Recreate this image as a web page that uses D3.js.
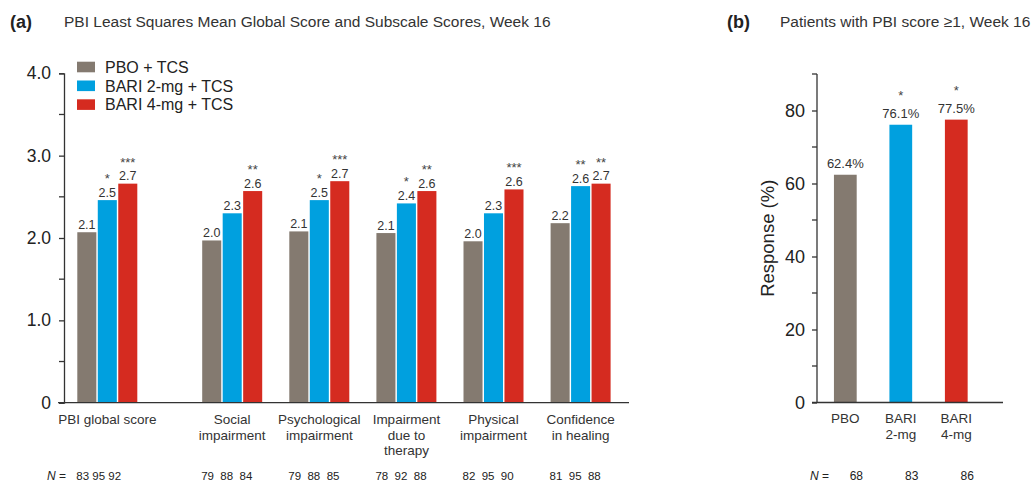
<!DOCTYPE html>
<html>
<head>
<meta charset="utf-8">
<script src="https://cdn.jsdelivr.net/npm/d3@7"></script>
<style>
  html, body { margin: 0; padding: 0; background: #fff; }
  svg { display: block; font-family: "Liberation Sans", Arial, Helvetica, sans-serif; }
  text { white-space: pre; }
</style>
</head>
<body>
<svg id="chart" width="1035" height="484"></svg>
<script>
// ---- Panel (a): PBI least squares mean scores ----
const categories = [
  ["PBI global score"],
  ["Social", "impairment"],
  ["Psychological", "impairment"],
  ["Impairment", "due to", "therapy"],
  ["Physical", "impairment"],
  ["Confidence", "in healing"]
];
const seriesNames = ["PBO + TCS", "BARI 2-mg + TCS", "BARI 4-mg + TCS"];
const pboScores   = [2.07, 1.97, 2.08, 2.06, 1.96, 2.18];
const bari2Scores = [2.46, 2.30, 2.46, 2.42, 2.30, 2.63];
const bari4Scores = [2.66, 2.57, 2.69, 2.57, 2.59, 2.66];
const pboStars    = ["", "", "", "", "", ""];
const bari2Stars  = ["*", "", "*", "*", "", "**"];
const bari4Stars  = ["***", "**", "***", "**", "***", "**"];
const pboN   = [83, 79, 79, 78, 82, 81];
const bari2N = [95, 88, 88, 92, 95, 95];
const bari4N = [92, 84, 85, 88, 90, 88];
const scoreTicks = [0, 1, 2, 3, 4];
const scoreMinorTicks = [0.5, 1.5, 2.5, 3.5];

// ---- Panel (b): patients with PBI score >= 1 ----
const respGroups = [["PBO"], ["BARI", "2-mg"], ["BARI", "4-mg"]];
const respValues = [62.4, 76.1, 77.5];
const respStars  = ["", "*", "*"];
const respN      = [68, 83, 86];
const respTicks  = [0, 20, 40, 60, 80];
const respMinorTicks = [10, 30, 50, 70, 90];

const colors = ["#847a70", "#00a0df", "#d52b20"];
const ink = "#222";
const axisInk = "#333";

const svg = d3.select("#chart");

// ================= Panel (a) =================
const a = svg.append("g");

const yA = d3.scaleLinear().domain([0, 4]).range([402.7, 73.3]);
// group slots: the global score sits apart from the five subscales
const slotOf = i => (i === 0 ? 0 : i + 0.434);
const xSlot = d3.scaleLinear().domain([0, 5.434]).range([107.3, 580.6]);
const xInner = d3.scaleBand().domain([0, 1, 2]).range([-30, 30]).paddingInner(0.07);

const seriesData = [
  { vals: pboScores, stars: pboStars },
  { vals: bari2Scores, stars: bari2Stars },
  { vals: bari4Scores, stars: bari4Stars }
];

// titles
a.append("text").attr("x", 10).attr("y", 27.5)
  .attr("font-size", 18).attr("font-weight", "bold").attr("fill", ink).text("(a)");
a.append("text").attr("x", 64).attr("y", 26.5)
  .attr("font-size", 15.5).attr("fill", "#333")
  .text("PBI Least Squares Mean Global Score and Subscale Scores, Week 16");

// y axis
const axisA = a.append("g").attr("transform", "translate(64,0)")
  .call(d3.axisLeft(yA).tickValues(scoreTicks).tickSize(5).tickPadding(8)
    .tickFormat(d => d === 0 ? "0" : d3.format(".1f")(d)));
axisA.select(".domain").attr("stroke", axisInk).attr("stroke-width", 1.3);
axisA.selectAll(".tick line").attr("stroke", axisInk).attr("stroke-width", 1.3);
axisA.selectAll(".tick text").attr("font-size", 17.5).attr("fill", ink)
  .attr("font-family", "Liberation Sans, Arial, sans-serif");
a.append("g").attr("transform", "translate(64,0)")
  .selectAll("line").data(scoreMinorTicks).join("line")
  .attr("x1", -5).attr("x2", 0).attr("y1", d => yA(d)).attr("y2", d => yA(d))
  .attr("stroke", axisInk).attr("stroke-width", 1.3);

// bars
seriesData.forEach((s, si) => {
  const g = a.append("g");
  s.vals.forEach((v, i) => {
    const cx = xSlot(slotOf(i)) + xInner(si);
    const top = yA(v);
    g.append("rect").attr("x", cx).attr("y", top)
      .attr("width", xInner.bandwidth()).attr("height", yA(0) - top)
      .attr("fill", colors[si]);
    g.append("text").attr("x", cx + xInner.bandwidth() / 2).attr("y", top - 3.5)
      .attr("text-anchor", "middle").attr("font-size", 12.5).attr("fill", "#333")
      .text(d3.format(".1f")(v));
    if (s.stars[i]) {
      g.append("text").attr("x", cx + xInner.bandwidth() / 2).attr("y", top - 17)
        .attr("text-anchor", "middle").attr("font-size", 13).attr("fill", "#444")
        .text(s.stars[i]);
    }
  });
});

// baseline
a.append("line").attr("x1", 58).attr("x2", 629)
  .attr("y1", yA(0)).attr("y2", yA(0))
  .attr("stroke", axisInk).attr("stroke-width", 1.3);

// category labels
categories.forEach((lines, i) => {
  const t = a.append("text").attr("text-anchor", "middle")
    .attr("font-size", 13.5).attr("fill", "#333");
  lines.forEach((ln, li) => {
    t.append("tspan").attr("x", xSlot(slotOf(i))).attr("y", 424 + li * 15.7).text(ln);
  });
});

// legend
const legend = a.append("g");
seriesNames.forEach((name, si) => {
  const cy = 67 + si * 18.8;
  legend.append("rect").attr("x", 77).attr("y", cy - 5.3)
    .attr("width", 18).attr("height", 10.6).attr("fill", colors[si]);
  legend.append("text").attr("x", 105).attr("y", cy + 5.7)
    .attr("font-size", 16).attr("fill", ink).text(name);
});

// N row
const nA = a.append("text").attr("x", 47).attr("y", 480)
  .attr("font-size", 12).attr("fill", ink);
nA.append("tspan").attr("font-style", "italic").text("N");
nA.append("tspan").text(" =");
categories.forEach((_, i) => {
  const sep = i === 0 ? " " : "  ";
  a.append("text").attr("x", xSlot(slotOf(i)) - 31).attr("y", 480)
    .attr("font-size", 11.5).attr("fill", ink)
    .text([pboN[i], bari2N[i], bari4N[i]].join(sep));
});

// ================= Panel (b) =================
const b = svg.append("g");
const yB = d3.scaleLinear().domain([0, 90]).range([402.5, 74]);
const xB = d3.scaleBand().domain(d3.range(respValues.length))
  .range([817.3, 984.3]).paddingInner(0.59).paddingOuter(0.3);

b.append("text").attr("x", 727).attr("y", 27.5)
  .attr("font-size", 18).attr("font-weight", "bold").attr("fill", ink).text("(b)");
b.append("text").attr("x", 780).attr("y", 26.5)
  .attr("font-size", 15.5).attr("fill", "#333")
  .text("Patients with PBI score \u22651, Week 16");

const axisB = b.append("g").attr("transform", "translate(817,0)")
  .call(d3.axisLeft(yB).tickValues(respTicks).tickSize(5).tickPadding(7)
    .tickFormat(d3.format("d")));
axisB.select(".domain").attr("stroke", axisInk).attr("stroke-width", 1.3)
  .attr("d", `M0,${yB(90)}V${yB(0)}`);
axisB.selectAll(".tick line").attr("stroke", axisInk).attr("stroke-width", 1.3);
axisB.selectAll(".tick text").attr("font-size", 18).attr("fill", ink)
  .attr("font-family", "Liberation Sans, Arial, sans-serif");
b.append("g").attr("transform", "translate(817,0)")
  .selectAll("line").data(respMinorTicks).join("line")
  .attr("x1", -5).attr("x2", 0).attr("y1", d => yB(d)).attr("y2", d => yB(d))
  .attr("stroke", axisInk).attr("stroke-width", 1.3);

b.append("text")
  .attr("transform", `translate(773.5,${(yB(0) + yB(90)) / 2}) rotate(-90)`)
  .attr("text-anchor", "middle").attr("font-size", 18.5).attr("fill", ink)
  .text("Response (%)");

respValues.forEach((v, i) => {
  const x = xB(i), top = yB(v), cx = x + xB.bandwidth() / 2;
  b.append("rect").attr("x", x).attr("y", top)
    .attr("width", xB.bandwidth()).attr("height", yB(0) - top)
    .attr("fill", colors[i]);
  b.append("text").attr("x", cx).attr("y", top - 6.3)
    .attr("text-anchor", "middle").attr("font-size", 13).attr("fill", "#333")
    .text(d3.format(".1f")(v) + "%");
  if (respStars[i]) {
    b.append("text").attr("x", cx).attr("y", top - 24.5)
      .attr("text-anchor", "middle").attr("font-size", 13).attr("fill", "#444")
      .text(respStars[i]);
  }
  const t = b.append("text").attr("text-anchor", "middle")
    .attr("font-size", 13.5).attr("fill", "#333");
  respGroups[i].forEach((ln, li) => {
    t.append("tspan").attr("x", cx).attr("y", 423 + li * 15.5).text(ln);
  });
  b.append("text").attr("x", cx + 11).attr("y", 480)
    .attr("text-anchor", "middle").attr("font-size", 12).attr("fill", ink)
    .text(respN[i]);
});

b.append("line").attr("x1", 812).attr("x2", 1003)
  .attr("y1", yB(0)).attr("y2", yB(0))
  .attr("stroke", axisInk).attr("stroke-width", 1.3);

const nB = b.append("text").attr("x", 810).attr("y", 480)
  .attr("font-size", 12).attr("fill", ink);
nB.append("tspan").attr("font-style", "italic").text("N");
nB.append("tspan").text(" =");
</script>
</body>
</html>
